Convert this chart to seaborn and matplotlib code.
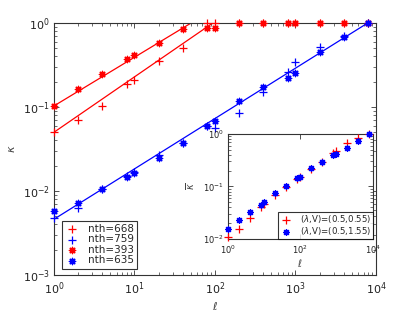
import matplotlib
matplotlib.use('Agg')
import matplotlib.pyplot as plt
import matplotlib.ticker as ticker
import numpy as np
import seaborn as sns

# system sizes
ell = [1, 2, 4, 8, 10, 20, 40, 80, 100, 200, 400, 800, 1000, 2000, 4000, 8000]

# main panel: kappa vs ell
kappa_668 = [0.051, 0.070, 0.103, 0.188, 0.21, 0.356, 0.50, 1.0, 1.0,
             1.0, 1.0, 1.0, 1.0, 1.0, 1.0, 1.0]
kappa_759 = [0.0047, 0.0062, 0.0105, 0.0150, 0.0170, 0.027, 0.037, 0.060, 0.0557,
             0.0857, 0.152, 0.263, 0.346, 0.52, 0.70, 1.0]
kappa_393 = [0.103, 0.166, 0.247, 0.37, 0.42, 0.58, 0.85, 0.88, 0.88,
             1.0, 1.0, 1.0, 1.0, 1.0, 1.0, 1.0]
kappa_635 = [0.0058, 0.0071, 0.0105, 0.0146, 0.0162, 0.025, 0.037, 0.060, 0.0687,
             0.118, 0.174, 0.219, 0.256, 0.456, 0.687, 1.0]

# power-law fits kappa = A * ell^b
fit_668 = (0.050, 0.66)
fit_393 = (0.103, 0.58)
fit_635 = (0.0046, 0.60)

# inset: normalised kappa
kbar_055 = [0.0111, 0.0153, 0.0255, 0.040, 0.0464, 0.069, 0.0966, 0.137, 0.150,
            0.215, 0.29, 0.44, 0.48, 0.68, 0.83, 1.0]
kbar_155 = [0.0155, 0.023, 0.033, 0.0445, 0.051, 0.074, 0.102, 0.143, 0.154,
            0.222, 0.293, 0.393, 0.416, 0.533, 0.725, 1.0]

RED = '#ff0000'
BLUE = '#0000ff'
AST = (8, 2, 0)
EDGE = '#333333'

sns.set_theme(style="ticks")
plt.rcParams['font.family'] = ['DejaVu Sans']
plt.rcParams['mathtext.fontset'] = 'dejavusans'


def style_log_axes(ax, labelsize, xticks, yticks, xminor=True, xpad=2, ypad=2):
    ax.set_xscale('log')
    ax.set_yscale('log')
    for s in ax.spines.values():
        s.set_color(EDGE)
        s.set_linewidth(0.8)
    ax.xaxis.set_major_locator(ticker.FixedLocator(xticks))
    ax.yaxis.set_major_locator(ticker.FixedLocator(yticks))
    ax.xaxis.set_major_formatter(ticker.LogFormatterSciNotation())
    ax.yaxis.set_major_formatter(ticker.LogFormatterSciNotation())
    if xminor:
        ax.xaxis.set_minor_locator(ticker.LogLocator(base=10, subs=np.arange(2, 10), numticks=20))
    else:
        ax.xaxis.set_minor_locator(ticker.NullLocator())
    ax.yaxis.set_minor_locator(ticker.LogLocator(base=10, subs=np.arange(2, 10), numticks=20))
    ax.xaxis.set_minor_formatter(ticker.NullFormatter())
    ax.yaxis.set_minor_formatter(ticker.NullFormatter())
    ax.tick_params(which='both', direction='in', top=True, right=True,
                   color=EDGE, labelcolor='#222222', labelsize=labelsize)
    ax.tick_params(axis='x', pad=xpad)
    ax.tick_params(axis='y', pad=ypad)
    ax.tick_params(which='major', length=3.5, width=0.6)
    ax.tick_params(which='minor', length=2, width=0.5)


fig = plt.figure(figsize=(4.15, 3.12), dpi=100)
ax = fig.add_axes([0.130, 0.119, 0.776, 0.807])

x = np.array(ell, dtype=float)
xfit = np.array([1.0, 1e4])
for (a, b), col in [(fit_668, RED), (fit_393, RED), (fit_635, BLUE)]:
    sns.lineplot(x=xfit, y=a * xfit ** b, color=col, linewidth=0.9, ax=ax, legend=False)

pk = dict(marker='+', s=36, linewidths=0.9, zorder=3, clip_on=False)
ak = dict(marker=AST, s=20, linewidths=1.0, zorder=3, clip_on=False)
h1 = ax.scatter(x, kappa_668, color=RED, label='nth=668', **pk)
h2 = ax.scatter(x, kappa_759, color=BLUE, label='nth=759', **pk)
h3 = ax.scatter(x, kappa_393, color=RED, label='nth=393', **ak)
h4 = ax.scatter(x, kappa_635, color=BLUE, label='nth=635', **ak)

ax.set_xlim(1, 1e4)
ax.set_ylim(1e-3, 1)
style_log_axes(ax, 8, [1, 10, 100, 1000, 1e4], [1e-3, 1e-2, 1e-1, 1], xpad=4, ypad=3)
ax.set_xlabel(r'$\ell$', fontsize=8, labelpad=2, color='#444444')
ax.set_ylabel(r'$\kappa$', fontsize=8, labelpad=4, color='#444444')

leg = ax.legend(handles=[h1, h2, h3, h4], loc='lower left', bbox_to_anchor=(0.024, 0.025),
                fontsize=7.5, frameon=True, fancybox=False, handletextpad=0.8,
                borderpad=0.3, labelspacing=0.05, handlelength=1.4, borderaxespad=0)
leg.get_frame().set_edgecolor('#000000')
leg.get_frame().set_linewidth(0.8)

# inset
ins = fig.add_axes([0.549, 0.234, 0.349, 0.337])
g1 = ins.scatter(x, kbar_055, color=RED, label=r'($\lambda$,V)=(0.5,0.55)',
                 marker='+', s=30, linewidths=0.9, zorder=3, clip_on=False)
g2 = ins.scatter(x, kbar_155, color=BLUE, label=r'($\lambda$,V)=(0.5,1.55)',
                 marker=AST, s=17, linewidths=1.0, zorder=3, clip_on=False)
ins.set_xlim(1, 1e4)
ins.set_ylim(1e-2, 1)
style_log_axes(ins, 6, [1, 100, 1e4], [1e-2, 1e-1, 1], xminor=False, xpad=3, ypad=3)
ins.set_xlabel(r'$\ell$', fontsize=7, labelpad=1, color='#444444')
ins.set_ylabel(r'$\overline{\kappa}$', fontsize=7, labelpad=4, color='#444444')
il = ins.legend(handles=[g1, g2], loc='lower right', fontsize=6.2, frameon=True,
                fancybox=False, borderpad=0.2, labelspacing=0.0, handlelength=1.4,
                handletextpad=0.9, borderaxespad=0)
il.get_frame().set_edgecolor('#000000')
il.get_frame().set_linewidth(0.8)

fig.savefig('out.png', dpi=100, facecolor='white')
